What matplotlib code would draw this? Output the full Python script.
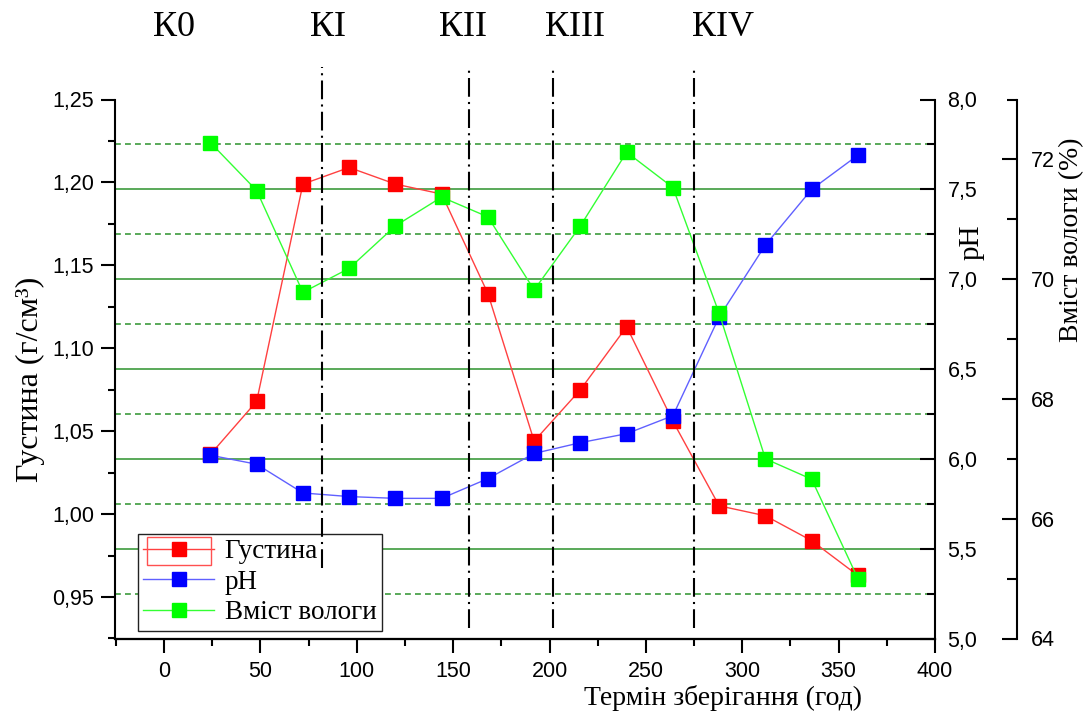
import numpy as np
import matplotlib
matplotlib.use("Agg")
import matplotlib.pyplot as plt
from matplotlib.ticker import MultipleLocator, FuncFormatter
from matplotlib.transforms import blended_transform_factory
from matplotlib.patches import Rectangle

# storage time, hours
hours = [24, 48, 72, 96, 120, 144, 168, 192, 216, 240, 264, 288, 312, 336, 360]
# density, g/cm3
density = [1.036, 1.068, 1.199, 1.209, 1.199, 1.193, 1.133, 1.044, 1.075, 1.113,
           1.056, 1.005, 0.999, 0.984, 0.963]
# pH
ph = [6.02, 5.97, 5.81, 5.79, 5.78, 5.78, 5.89, 6.03, 6.09, 6.14,
      6.24, 6.79, 7.19, 7.50, 7.69]
# moisture, %
moisture = [72.28, 71.48, 69.78, 70.18, 70.89, 71.37, 71.04, 69.82, 70.89, 72.12,
            71.53, 69.43, 67.0, 66.66, 65.0]

stage_names = ["К0", "КІ", "КІІ", "КІІІ", "КІV"]
stage_label_x = [5, 85, 155, 213, 290]
stage_bounds = [82, 158, 202, 275]

plt.rcParams['font.family'] = ['Liberation Sans', 'DejaVu Sans']
serif = ['Liberation Serif', 'DejaVu Serif']

def comma(fmt):
    return FuncFormatter(lambda v, p: format(v, fmt).replace('.', ','))

fig = plt.figure(figsize=(10.85, 7.18), dpi=100)
ax = fig.add_axes([115/1085, 1-638.5/718, 820/1085, 539/718])
ax2 = ax.twinx()
ax3 = ax.twinx()
ax3.spines['right'].set_position(('axes', 1.1))

ax.set_xlim(-25.5, 400)
ax.set_ylim(0.925, 1.25)
ax2.set_ylim(5.0, 8.0)
ax3.set_ylim(64, 73)

for a in (ax, ax2, ax3):
    a.spines['top'].set_visible(False)
    for s in a.spines.values():
        s.set_linewidth(1.5)
ax.spines['right'].set_visible(False)
ax2.spines['left'].set_visible(False)
ax3.spines['left'].set_visible(False)

# pH grid, drawn on the bottom axes so that the data stays above it
gtr = blended_transform_factory(ax.transAxes, ax2.transData)
for v in [5.5, 6.0, 6.5, 7.0, 7.5]:
    ax.plot([0, 1], [v, v], transform=gtr, color='#3d9b3d', lw=1.2, zorder=0.5)
for v in [5.25, 5.75, 6.25, 6.75, 7.25, 7.75]:
    ax.plot([0, 1], [v, v], transform=gtr, color='#3d9b3d', lw=1.2,
            dashes=(3.5, 2.5), zorder=0.5)

l1, = ax.plot(hours, density, color='#ff4040', lw=1, marker='s', ms=9.5,
              mfc='#ff0000', mec='#ff0000', label='Густина')
l2, = ax2.plot(hours, ph, color='#6060ff', lw=1, marker='s', ms=9.5,
               mfc='#0000ff', mec='#0000ff', label='pH')
l3, = ax3.plot(hours, moisture, color='#33ff33', lw=1, marker='s', ms=9.5,
               mfc='#00ff00', mec='#00ff00', label='Вміст вологи')

# x axis
ax.xaxis.set_major_locator(MultipleLocator(50))
ax.xaxis.set_minor_locator(MultipleLocator(25))
ax.set_xticks(range(0, 401, 50))
ax.tick_params(axis='x', which='major', direction='out', length=10, width=1.5,
               labelsize=15.5, pad=6)
ax.tick_params(axis='x', which='minor', direction='out', length=5, width=1.5)

# density axis
ax.yaxis.set_major_locator(MultipleLocator(0.05))
ax.yaxis.set_minor_locator(MultipleLocator(0.025))
ax.yaxis.set_major_formatter(comma('.2f'))
ax.tick_params(axis='y', which='major', direction='out', length=10, width=1.5,
               labelsize=15.5, pad=5)
ax.tick_params(axis='y', which='minor', direction='out', length=5, width=1.5)

# pH axis
ax2.yaxis.set_major_locator(MultipleLocator(0.5))
ax2.yaxis.set_minor_locator(MultipleLocator(0.25))
ax2.yaxis.set_major_formatter(comma('.1f'))
ax2.tick_params(axis='y', which='major', direction='in', length=11, width=1.5,
                labelsize=15.5, pad=9)
ax2.tick_params(axis='y', which='minor', direction='in', length=6, width=1.5)

# moisture axis
ax3.yaxis.set_major_locator(MultipleLocator(2))
ax3.yaxis.set_minor_locator(MultipleLocator(1))
ax3.tick_params(axis='y', which='major', direction='in', length=11, width=1.5,
                labelsize=15.5, pad=10)
ax3.tick_params(axis='y', which='minor', direction='in', length=7, width=1.5)

ax.set_xlabel('Термін зберігання (год)', family=serif, fontsize=20, va='center')
ax.xaxis.set_label_coords(0.741, -0.11)
ax.set_ylabel('Густина (г/см³)', family=serif, fontsize=23, va='center')
ax.yaxis.set_label_coords(-0.1037, 0.48)
ax2.set_ylabel('pH', family=serif, fontsize=21, va='center')
ax2.yaxis.set_label_coords(1.045, 0.736)
ax3.set_ylabel('Вміст вологи (%)', family=serif, fontsize=20, va='center')
ax3.yaxis.set_label_coords(1.166, 0.74)

leg = ax3.legend(handles=[l1, l2, l3], loc='lower left',
                 bbox_to_anchor=(0.028, 0.0145), borderaxespad=0,
                 prop={'family': serif, 'size': 19.5}, handlelength=2.6,
                 labelspacing=0.2, borderpad=0.2, handletextpad=0.4,
                 fancybox=False, framealpha=1, edgecolor='#222222')
leg.get_frame().set_linewidth(1.0)
ax3.add_patch(Rectangle((0.0387, 0.136), 0.078, 0.052, transform=ax3.transAxes,
                        fill=False, ec='#ff5050', lw=1, zorder=7, clip_on=False))

# stage boundaries and names
xt = ax3.get_xaxis_transform()
for i, xb in enumerate(stage_bounds):
    bottom = 0.131 if i == 0 else 0.0195
    ax3.plot([xb, xb], [bottom, 1.06], transform=xt, color='black', lw=1.5,
             dashes=(9, 2.5, 1, 2.5), clip_on=False, zorder=8)
for name, xl in zip(stage_names, stage_label_x):
    ax3.text(xl, 1.133, name, transform=xt, family=serif, fontsize=26,
             ha='center', va='center')

fig.savefig('out.png', dpi=100)
